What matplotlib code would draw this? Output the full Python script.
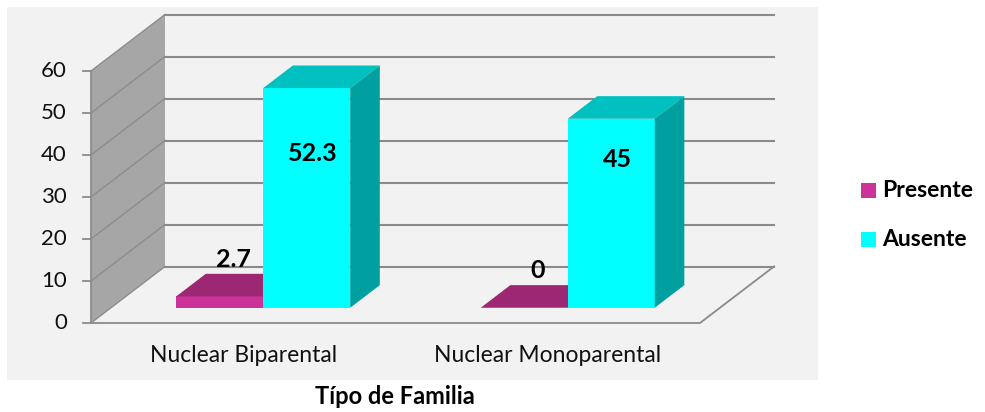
import matplotlib
matplotlib.use("Agg")
import matplotlib.pyplot as plt
from matplotlib.patches import Polygon, Rectangle

# data
categories = ["Nuclear Biparental", "Nuclear Monoparental"]
series_names = ["Presente", "Ausente"]
presente = [2.7, 0]
ausente = [52.3, 45]
y_ticks = [0, 10, 20, 30, 40, 50, 60]
x_title = "Típo de Familia"

# colours for each series: front, top, side
colors = {
    "Presente": ("#cc3399", "#9c2772", "#8a2266"),
    "Ausente": ("#00ffff", "#00c0c0", "#00a0a0"),
}
grid_col = "#8a8a8a"
wall_col = "#a6a6a6"
bg_col = "#f2f2f2"

W, H = 985, 412
PX_CAT = 304.5      # pixels per category unit
PX_VAL = 4.2        # pixels per value unit
X0, Y0 = 91, 323    # pixel position of (cat 0, value 0) in the front plane
DX = 74 / PX_CAT    # depth shift (category units)
DY = 56.5 / PX_VAL  # depth shift (value units)

fig = plt.figure(figsize=(W / 100, H / 100), dpi=100)
fig.patch.set_facecolor("white")

ax = fig.add_axes([0, 0, 1, 1])
ax.set_xlim(-X0 / PX_CAT, (W - X0) / PX_CAT)
ax.set_ylim((Y0 - H) / PX_VAL, Y0 / PX_VAL)
ax.axis("off")


def p(x, v, z):
    return (x + z * DX, v + z * DY)


def px(x_pix):
    return (x_pix - X0) / PX_CAT


def py(y_pix):
    return (Y0 - y_pix) / PX_VAL


# chart area background
ax.add_patch(Rectangle((px(7), py(380)), 811 / PX_CAT, 373 / PX_VAL,
                       facecolor=bg_col, edgecolor="none", zorder=0))

n = len(categories)
vmax = y_ticks[-1]

# floor
ax.add_patch(Polygon([p(0, 0, 0), p(n, 0, 0), p(n, 0, 1), p(0, 0, 1)],
                     closed=True, facecolor=bg_col, edgecolor="none", zorder=1))
ax.plot(*zip(p(0, 0, 0), p(n, 0, 0), p(n, 0, 1)), color=grid_col, lw=1.3, zorder=2)

# left wall
ax.add_patch(Polygon([p(0, 0, 0), p(0, vmax, 0), p(0, vmax, 1), p(0, 0, 1)],
                     closed=True, facecolor=wall_col, edgecolor="none", zorder=1))
ax.plot(*zip(p(0, 0, 0), p(0, vmax, 0)), color="#8c8c8c", lw=1.3, zorder=2)

# gridlines and ticks
for t in y_ticks:
    ax.plot(*zip(p(0, t, 0), p(0, t, 1)), color="#8c8c8c", lw=1.0, zorder=2)
    ax.plot(*zip(p(0, t, 1), p(n, t, 1)), color=grid_col, lw=1.5, zorder=2)
    ax.plot([-8 / PX_CAT, 0], [t, t], color=grid_col, lw=1.3, zorder=2)
    ax.text(px(67), t, str(t), ha="right", va="center", fontsize=16,
            family="Lato", color="#111111")

# bars
bw = 87 / PX_CAT
z1, z2 = 0.27, 0.67


def draw_bar(x0, v, cols, zo):
    x1 = x0 + bw
    front, top, side = cols
    ax.add_patch(Polygon([p(x0, 0, z1), p(x1, 0, z1), p(x1, v, z1), p(x0, v, z1)],
                         facecolor=front, edgecolor="none", zorder=zo))
    ax.add_patch(Polygon([p(x0, v, z1), p(x1, v, z1), p(x1, v, z2), p(x0, v, z2)],
                         facecolor=top, edgecolor="none", zorder=zo))
    ax.add_patch(Polygon([p(x1, 0, z1), p(x1, 0, z2), p(x1, v, z2), p(x1, v, z1)],
                         facecolor=side, edgecolor="none", zorder=zo))


inside_label_v = [36.8, 35.2]
for i in range(n):
    c = i + 0.5
    draw_bar(c - bw, presente[i], colors["Presente"], 3)
    draw_bar(c, ausente[i], colors["Ausente"], 4)
    lx, ly = p(c - bw / 2, presente[i], z1)
    ax.text(lx + 0.045, ly + 8.8, f"{presente[i]:g}", ha="center", va="center",
            fontsize=18, fontweight="bold", family="Lato", zorder=6)
    lx, ly = p(c + bw / 2, inside_label_v[i], z1)
    ax.text(lx + 0.02, ly, f"{ausente[i]:g}", ha="center", va="center",
            fontsize=18, fontweight="bold", family="Lato", zorder=6)
    ax.text(c, py(355), categories[i], ha="center", va="center", fontsize=16.5,
            family="Lato", color="#111111")

ax.text(px(395), py(397), x_title, ha="center", va="center", fontsize=17,
        fontweight="bold", family="Lato")

# legend
for k, name in enumerate(series_names):
    top_pix = 183 + k * 49
    ax.add_patch(Rectangle((px(861), py(top_pix + 15)), 15 / PX_CAT, 15 / PX_VAL,
                           facecolor=colors[name][0], edgecolor="none", zorder=5))
    ax.text(px(882), py(top_pix + 7.5), name, ha="left", va="center", fontsize=16.5,
            fontweight="bold", family="Lato")

fig.savefig("out.png", dpi=100)
